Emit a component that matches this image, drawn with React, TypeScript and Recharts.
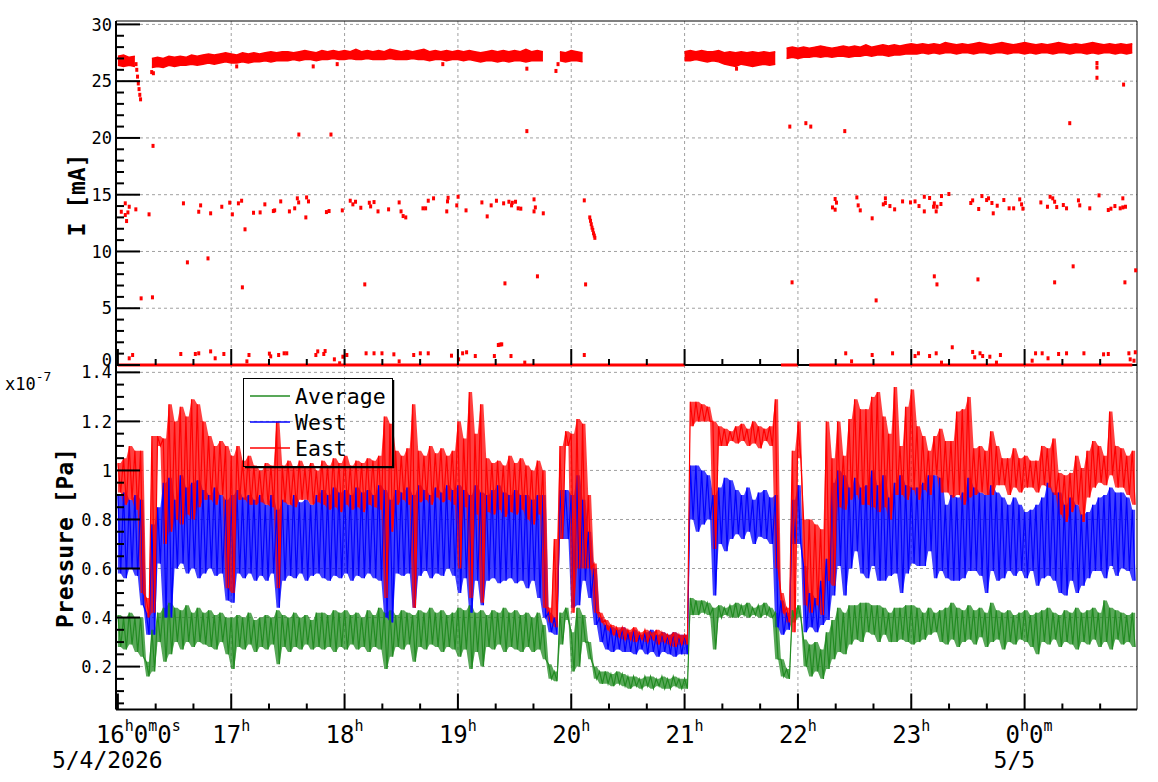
import React from 'react';
import { ComposedChart, Line, Area, Scatter, XAxis, YAxis, CartesianGrid, Legend } from 'recharts';

const W = 1158;
const H = 782;
const FONT = '"DejaVu Sans Mono", "Liberation Mono", monospace';
const BIN_MIN = 3; // minutes per sample bin, time measured in minutes after 16:00
const X_DOMAIN: [number, number] = [-1, 539.5];

// ---------- axis ticks / labels ----------
const timeTicks = [0, 20, 40, 60, 80, 100, 120, 140, 160, 180, 200, 220, 240, 260, 280, 300, 320, 340, 360, 380, 400, 420, 440, 460, 480, 500, 520];
const hourTicks = [60, 120, 180, 240, 300, 360, 420, 480];
const hourLabels = ['16', '17', '18', '19', '20', '21', '22', '23', '0'];
const dateLabels: { [k: number]: string } = { 0: '5/4/2026', 8: '5/5' };

const currentTicks = [0, 1, 2, 3, 4, 5, 6, 7, 8, 9, 10, 11, 12, 13, 14, 15, 16, 17, 18, 19, 20, 21, 22, 23, 24, 25, 26, 27, 28, 29, 30];
const currentMajor = [5, 10, 15, 20, 25, 30];
const pressureTicks = [0.05, 0.1, 0.15, 0.2, 0.25, 0.3, 0.35, 0.4, 0.45, 0.5, 0.55, 0.6, 0.65, 0.7, 0.75, 0.8, 0.85, 0.9, 0.95, 1.0, 1.05, 1.1, 1.15, 1.2, 1.25, 1.3, 1.35, 1.4];
const pressureMajor = [0.2, 0.4, 0.6, 0.8, 1.0, 1.2, 1.4];
const pressureLabels = ['0.2', '0.4', '0.6', '0.8', '1', '1.2', '1.4'];

// ---------- pressure (x1e-7 Pa), upper / lower envelope per 3-minute bin ----------
const eastHi = [
  1.03, 1.05, 1.10, 1.08, 1.08, 0.48, 1.14, 1.14, 1.13, 1.27,
  1.20, 1.26, 1.22, 1.29, 1.27, 1.20, 1.14, 1.10, 1.12, 1.10,
  1.06, 1.10, 1.04, 1.06, 1.02, 1.00, 1.03, 1.02, 1.20, 1.02,
  1.04, 1.01, 1.04, 1.01, 1.03, 1.00, 1.04, 1.02, 1.05, 1.03,
  1.06, 1.02, 1.04, 1.03, 1.05, 1.04, 1.06, 1.22, 1.19, 1.08,
  1.06, 1.09, 1.27, 1.08, 1.06, 1.10, 1.07, 1.09, 1.06, 1.08,
  1.20, 1.13, 1.32, 1.15, 1.27, 1.05, 1.03, 1.04, 1.02, 1.06,
  1.03, 1.05, 1.02, 1.00, 1.04, 1.00, 0.44, 0.72, 1.10, 1.16,
  1.15, 1.21, 1.19, 0.90, 0.62, 0.42, 0.39, 0.37, 0.36, 0.36,
  0.35, 0.36, 0.34, 0.35, 0.34, 0.35, 0.34, 0.33, 0.34, 0.33,
  0.33, 1.28, 1.28, 1.27, 1.26, 1.20, 1.18, 1.17, 1.16, 1.18,
  1.19, 1.17, 1.20, 1.18, 1.17, 1.18, 1.29, 0.50, 0.44, 1.08,
  1.20, 0.80, 0.80, 0.78, 0.76, 1.20, 1.05, 1.20, 1.06, 1.21,
  1.29, 1.25, 1.25, 1.30, 1.32, 1.22, 1.15, 1.34, 1.10, 1.26,
  1.33, 1.18, 1.14, 1.08, 1.14, 1.17, 1.12, 1.12, 1.24, 1.25,
  1.30, 1.09, 1.10, 1.08, 1.16, 1.10, 1.05, 1.05, 1.09, 1.05,
  1.06, 1.04, 1.04, 1.10, 1.09, 1.13, 0.99, 0.98, 0.99, 1.06,
  1.01, 1.08, 1.12, 1.10, 1.06, 1.24, 1.10, 1.09, 1.06, 1.08,
];
const eastLo = [
  0.91, 0.86, 0.88, 0.84, 0.50, 0.40, 0.42, 1.10, 0.70, 0.75,
  0.80, 0.78, 0.82, 0.80, 0.85, 0.88, 0.88, 0.86, 0.90, 0.52,
  0.50, 0.88, 0.88, 0.86, 0.86, 0.87, 0.86, 0.85, 0.52, 0.87,
  0.86, 0.85, 0.88, 0.88, 0.86, 0.87, 0.86, 0.84, 0.85, 0.83,
  0.86, 0.84, 0.85, 0.83, 0.86, 0.85, 0.84, 0.48, 0.75, 0.86,
  0.88, 0.86, 0.44, 0.87, 0.88, 0.86, 0.89, 0.87, 0.88, 0.86,
  0.60, 0.85, 0.48, 0.82, 0.46, 0.83, 0.82, 0.84, 0.81, 0.83,
  0.82, 0.84, 0.80, 0.78, 0.82, 0.44, 0.38, 0.36, 0.72, 1.10,
  0.42, 0.60, 0.60, 0.60, 0.42, 0.38, 0.35, 0.33, 0.32, 0.31,
  0.31, 0.30, 0.31, 0.30, 0.31, 0.29, 0.30, 0.29, 0.28, 0.29,
  0.29, 1.18, 1.20, 1.20, 1.20, 0.68, 1.10, 1.10, 1.12, 1.11,
  1.12, 1.10, 1.11, 1.09, 1.12, 1.10, 0.60, 0.42, 0.38, 0.34,
  1.05, 0.45, 0.42, 0.45, 0.41, 0.55, 0.53, 0.85, 0.84, 0.88,
  0.90, 0.86, 0.86, 0.85, 0.83, 0.85, 0.80, 0.90, 0.90, 0.88,
  0.92, 0.88, 0.92, 0.90, 0.98, 0.91, 0.91, 0.89, 0.90, 0.86,
  0.89, 0.90, 0.91, 0.90, 0.90, 0.94, 0.94, 0.90, 0.93, 0.91,
  0.93, 0.93, 0.91, 0.94, 0.93, 0.90, 0.82, 0.79, 0.83, 0.86,
  0.79, 0.89, 0.93, 0.95, 0.94, 0.98, 0.93, 0.93, 0.90, 0.86,
];
const westHi = [
  0.90, 0.91, 0.88, 0.90, 0.88, 0.42, 0.78, 0.85, 0.95, 0.97,
  0.88, 0.98, 0.93, 0.95, 0.96, 0.92, 0.90, 0.93, 0.90, 0.88,
  0.90, 0.92, 0.89, 0.90, 0.88, 0.90, 0.86, 0.90, 0.84, 0.88,
  0.86, 0.90, 0.87, 0.88, 0.86, 0.90, 0.92, 0.90, 0.93, 0.91,
  0.92, 0.90, 0.93, 0.91, 0.92, 0.90, 0.94, 0.92, 0.88, 0.92,
  0.91, 0.93, 0.90, 0.94, 0.92, 0.90, 0.93, 0.91, 0.94, 0.92,
  0.94, 0.92, 0.90, 0.94, 0.91, 0.90, 0.92, 0.94, 0.91, 0.90,
  0.92, 0.90, 0.90, 0.88, 0.90, 0.90, 0.42, 0.40, 0.92, 0.92,
  0.90, 0.98, 0.88, 0.75, 0.60, 0.40, 0.37, 0.36, 0.35, 0.36,
  0.34, 0.35, 0.33, 0.34, 0.35, 0.33, 0.34, 0.33, 0.34, 0.33,
  0.33, 1.02, 1.02, 1.00, 0.98, 0.90, 0.93, 0.97, 0.96, 0.92,
  0.90, 0.93, 0.88, 0.91, 0.92, 0.89, 0.90, 0.47, 0.42, 0.88,
  0.94, 0.61, 0.50, 0.48, 0.55, 0.64, 0.95, 1.00, 0.98, 0.93,
  0.97, 0.93, 0.94, 1.00, 0.94, 0.98, 0.89, 0.95, 0.98, 0.94,
  0.93, 0.93, 0.95, 0.98, 0.98, 0.97, 0.86, 0.90, 0.89, 0.91,
  0.97, 0.93, 0.91, 0.90, 0.94, 0.91, 0.89, 0.86, 0.89, 0.86,
  0.83, 0.84, 0.86, 0.89, 0.95, 0.91, 0.91, 0.86, 0.89, 0.86,
  0.82, 0.83, 0.86, 0.89, 0.90, 0.93, 0.91, 0.91, 0.89, 0.84,
];
const westLo = [
  0.58, 0.56, 0.60, 0.57, 0.45, 0.33, 0.33, 0.62, 0.40, 0.40,
  0.60, 0.62, 0.58, 0.60, 0.56, 0.58, 0.60, 0.57, 0.58, 0.47,
  0.46, 0.58, 0.56, 0.58, 0.55, 0.57, 0.55, 0.58, 0.44, 0.55,
  0.57, 0.56, 0.58, 0.55, 0.57, 0.58, 0.56, 0.55, 0.57, 0.56,
  0.58, 0.55, 0.57, 0.56, 0.58, 0.56, 0.55, 0.40, 0.38, 0.58,
  0.57, 0.58, 0.44, 0.57, 0.59, 0.56, 0.58, 0.57, 0.60, 0.57,
  0.50, 0.56, 0.42, 0.55, 0.45, 0.55, 0.56, 0.54, 0.55, 0.56,
  0.54, 0.55, 0.52, 0.55, 0.48, 0.40, 0.34, 0.33, 0.72, 0.72,
  0.44, 0.45, 0.55, 0.48, 0.37, 0.30, 0.27, 0.26, 0.27, 0.26,
  0.26, 0.25, 0.27, 0.25, 0.26, 0.24, 0.26, 0.25, 0.24, 0.25,
  0.25, 0.80, 0.75, 0.78, 0.80, 0.49, 0.70, 0.67, 0.72, 0.74,
  0.72, 0.75, 0.70, 0.73, 0.72, 0.70, 0.36, 0.33, 0.35, 0.70,
  0.70, 0.34, 0.36, 0.34, 0.37, 0.39, 0.49, 0.61, 0.49, 0.60,
  0.67, 0.58, 0.56, 0.61, 0.55, 0.55, 0.57, 0.58, 0.50, 0.58,
  0.62, 0.61, 0.61, 0.67, 0.56, 0.59, 0.56, 0.55, 0.55, 0.56,
  0.59, 0.59, 0.57, 0.50, 0.59, 0.55, 0.56, 0.59, 0.57, 0.59,
  0.56, 0.59, 0.53, 0.56, 0.57, 0.55, 0.50, 0.49, 0.55, 0.50,
  0.53, 0.56, 0.59, 0.59, 0.56, 0.61, 0.57, 0.60, 0.59, 0.55,
];
const avgHi = [
  0.41, 0.40, 0.42, 0.40, 0.40, 0.22, 0.35, 0.42, 0.44, 0.46,
  0.44, 0.43, 0.45, 0.42, 0.44, 0.42, 0.43, 0.41, 0.42, 0.40,
  0.40, 0.41, 0.40, 0.42, 0.39, 0.40, 0.41, 0.40, 0.43, 0.41,
  0.40, 0.42, 0.40, 0.41, 0.39, 0.42, 0.42, 0.41, 0.43, 0.42,
  0.43, 0.41, 0.42, 0.40, 0.43, 0.41, 0.44, 0.42, 0.43, 0.41,
  0.43, 0.42, 0.41, 0.43, 0.42, 0.44, 0.42, 0.43, 0.41, 0.42,
  0.44, 0.43, 0.45, 0.42, 0.43, 0.41, 0.43, 0.42, 0.44, 0.42,
  0.43, 0.41, 0.42, 0.40, 0.42, 0.37, 0.21, 0.18, 0.42, 0.44,
  0.34, 0.44, 0.41, 0.30, 0.20, 0.18, 0.18, 0.17, 0.18, 0.17,
  0.16, 0.16, 0.15, 0.16, 0.16, 0.15, 0.16, 0.15, 0.16, 0.15,
  0.15, 0.48, 0.47, 0.47, 0.46, 0.44, 0.45, 0.44, 0.45, 0.46,
  0.45, 0.46, 0.44, 0.45, 0.46, 0.44, 0.42, 0.23, 0.19, 0.43,
  0.45, 0.31, 0.29, 0.30, 0.27, 0.34, 0.39, 0.44, 0.42, 0.45,
  0.45, 0.46, 0.46, 0.45, 0.45, 0.44, 0.42, 0.44, 0.44, 0.45,
  0.45, 0.44, 0.42, 0.44, 0.42, 0.43, 0.44, 0.46, 0.44, 0.43,
  0.45, 0.43, 0.44, 0.42, 0.46, 0.43, 0.42, 0.43, 0.41, 0.42,
  0.43, 0.41, 0.42, 0.43, 0.44, 0.42, 0.41, 0.43, 0.42, 0.44,
  0.42, 0.43, 0.44, 0.42, 0.47, 0.44, 0.43, 0.42, 0.41, 0.42,
];
const avgLo = [
  0.28, 0.27, 0.29, 0.26, 0.24, 0.16, 0.18, 0.30, 0.22, 0.25,
  0.30, 0.27, 0.30, 0.28, 0.30, 0.29, 0.28, 0.27, 0.30, 0.25,
  0.19, 0.28, 0.27, 0.29, 0.26, 0.28, 0.27, 0.29, 0.21, 0.28,
  0.26, 0.28, 0.27, 0.29, 0.27, 0.28, 0.27, 0.28, 0.26, 0.28,
  0.27, 0.29, 0.27, 0.28, 0.26, 0.28, 0.27, 0.19, 0.24, 0.28,
  0.27, 0.29, 0.22, 0.28, 0.27, 0.29, 0.28, 0.26, 0.28, 0.27,
  0.24, 0.27, 0.19, 0.26, 0.20, 0.28, 0.27, 0.29, 0.26, 0.28,
  0.27, 0.26, 0.28, 0.26, 0.27, 0.23, 0.15, 0.14, 0.29, 0.39,
  0.18, 0.20, 0.30, 0.23, 0.15, 0.13, 0.13, 0.12, 0.13, 0.12,
  0.11, 0.12, 0.11, 0.12, 0.11, 0.12, 0.11, 0.11, 0.12, 0.11,
  0.11, 0.41, 0.41, 0.42, 0.41, 0.27, 0.40, 0.41, 0.40, 0.40,
  0.41, 0.40, 0.41, 0.40, 0.41, 0.40, 0.23, 0.16, 0.15, 0.38,
  0.40, 0.20, 0.16, 0.18, 0.15, 0.19, 0.23, 0.26, 0.25, 0.29,
  0.31, 0.30, 0.34, 0.33, 0.30, 0.33, 0.30, 0.30, 0.31, 0.30,
  0.29, 0.30, 0.31, 0.33, 0.34, 0.30, 0.29, 0.31, 0.28, 0.30,
  0.31, 0.29, 0.32, 0.28, 0.30, 0.31, 0.27, 0.30, 0.29, 0.31,
  0.30, 0.28, 0.25, 0.30, 0.29, 0.31, 0.28, 0.30, 0.29, 0.27,
  0.30, 0.29, 0.31, 0.28, 0.30, 0.27, 0.31, 0.29, 0.30, 0.28,
];

// ---------- beam current (mA) ----------
const curHi = [
  27.2, 27.3, 27.1, 27.2, null, null, 27.0, 27.1, 27.0, 27.2,
  27.1, 27.2, 27.1, 27.3, 27.2, 27.3, 27.4, 27.3, 27.4, 27.5,
  27.4, 27.3, 27.5, 27.4, 27.5, 27.4, 27.5, 27.6, 27.5, 27.6,
  27.6, 27.5, 27.6, 27.7, 27.6, 27.5, 27.7, 27.6, 27.7, 27.6,
  27.7, 27.6, 27.8, 27.6, 27.7, 27.6, 27.7, 27.6, 27.8, 27.7,
  27.6, 27.7, 27.6, 27.7, 27.8, 27.6, 27.7, 27.6, 27.7, 27.6,
  27.7, 27.6, 27.7, 27.6, 27.5, 27.6, 27.7, 27.6, 27.7, 27.6,
  27.7, 27.6, 27.8, 27.6, 27.7, 27.6, null, null, 27.6, 27.5,
  27.7, 27.6, 27.5, null, null, null, null, null, null, null,
  null, null, null, null, null, null, null, null, null, null,
  27.6, 27.7, 27.6, 27.7, 27.6, 27.6, 27.7, 27.5, 27.6, 27.5,
  27.6, 27.5, 27.6, 27.5, 27.6, 27.5, 27.6, null, 27.9, 28.0,
  27.9, 28.0, 27.9, 28.0, 28.1, 28.0, 27.9, 28.0, 28.1, 28.0,
  28.1, 28.0, 28.2, 28.0, 28.1, 28.2, 28.1, 28.2, 28.1, 28.2,
  28.3, 28.2, 28.3, 28.2, 28.3, 28.2, 28.4, 28.3, 28.2, 28.3,
  28.2, 28.3, 28.4, 28.3, 28.2, 28.3, 28.4, 28.3, 28.2, 28.3,
  28.4, 28.3, 28.2, 28.3, 28.2, 28.3, 28.4, 28.3, 28.2, 28.3,
  28.2, 28.3, 28.4, 28.3, 28.2, 28.3, 28.2, 28.3, 28.2, 28.3,
];
const curLo = [
  26.4, 26.3, 26.4, 26.3, null, null, 26.2, 26.3, 26.2, 26.4,
  26.3, 26.4, 26.4, 26.5, 26.4, 26.5, 26.6, 26.5, 26.6, 26.7,
  26.6, 26.6, 26.7, 26.6, 26.7, 26.7, 26.8, 26.7, 26.8, 26.8,
  26.8, 26.9, 26.8, 26.9, 26.9, 26.8, 26.9, 26.9, 27.0, 26.9,
  26.9, 27.0, 26.9, 26.9, 27.0, 26.9, 26.9, 26.9, 27.0, 26.9,
  26.9, 26.9, 27.0, 26.9, 26.9, 26.8, 26.9, 26.9, 26.8, 26.9,
  26.9, 26.8, 26.9, 26.8, 26.7, 26.8, 26.8, 26.7, 26.8, 26.7,
  26.8, 26.8, 26.7, 26.8, 26.8, 26.8, null, null, 26.8, 26.7,
  26.8, 26.8, 26.7, null, null, null, null, null, null, null,
  null, null, null, null, null, null, null, null, null, null,
  26.8, 26.8, 26.9, 26.8, 26.7, 26.8, 26.7, 26.5, 26.4, 26.3,
  26.5, 26.4, 26.3, 26.4, 26.5, 26.4, 26.5, null, 27.0, 27.1,
  27.0, 27.1, 27.1, 27.2, 27.1, 27.2, 27.1, 27.2, 27.2, 27.1,
  27.2, 27.2, 27.3, 27.2, 27.3, 27.3, 27.2, 27.3, 27.3, 27.4,
  27.4, 27.4, 27.5, 27.4, 27.5, 27.4, 27.5, 27.5, 27.4, 27.5,
  27.5, 27.4, 27.5, 27.5, 27.4, 27.5, 27.5, 27.4, 27.5, 27.5,
  27.4, 27.5, 27.4, 27.5, 27.5, 27.4, 27.5, 27.5, 27.4, 27.5,
  27.5, 27.4, 27.5, 27.4, 27.5, 27.5, 27.4, 27.5, 27.4, 27.5,
];
const idleCurrent = [
  0, 0, 0, 0, 0, 0, 0, 0, 0, 0,
  0, 0, 0, 0, 0, 0, 0, 0, 0, 0,
  0, 0, 0, 0, 0, 0, 0, 0, 0, 0,
  0, 0, 0, 0, 0, 0, 0, 0, 0, 0,
  0, 0, 0, 0, 0, 0, 0, 0, 0, 0,
  0, 0, 0, 0, 0, 0, 0, 0, 0, 0,
  0, 0, 0, 0, 0, 0, 0, 0, 0, 0,
  0, 0, 0, 0, 0, 0, 0, 0, 0, 0,
  0, 0, 0, 0, 0, 0, 0, 0, 0, 0,
  0, 0, 0, 0, 0, 0, 0, 0, 0, 0,
  0, null, null, null, null, null, null, null, null, null,
  null, null, null, null, null, null, null, 0, 0, 0,
  0, null, 0, 0, 0, 0, 0, 0, 0, 0,
  0, 0, 0, 0, 0, 0, 0, 0, 0, 0,
  0, 0, 0, 0, 0, 0, 0, 0, 0, 0,
  0, 0, 0, 0, 0, 0, 0, 0, 0, 0,
  0, 0, 0, 0, 0, 0, 0, 0, 0, 0,
  0, 0, 0, 0, 0, 0, 0, 0, 0, 0,
];

// isolated current readings [minute, mA]
const dropPts = [
  [9.6, 26.5], [10.0, 26.0], [10.4, 25.4], [10.8, 24.8], [11.2, 24.3], [11.6, 23.8], [12.0, 23.4],
  [249.8, 13.0], [250.2, 12.7], [250.6, 12.4], [251.0, 12.1], [251.4, 11.9], [251.8, 11.6], [252.2, 11.4], [252.5, 11.2],
];
const highPts = [
  [18.6, 19.3], [95.8, 20.3], [112.8, 20.3], [216.5, 20.6], [355.7, 21.0], [364.2, 21.3], [366.8, 21.0],
  [384.8, 20.6], [503.9, 21.3], [532.4, 24.7], [518.3, 25.3], [518.3, 26.2], [518.3, 26.6],
  [17.9, 25.8], [18.8, 25.7], [62.9, 26.3], [103.4, 26.3], [116.1, 26.5], [172.0, 26.5],
  [216.5, 26.1], [231.9, 25.9], [233.0, 26.5], [327.5, 26.1],
];
const midPts = [
  [1.8, 13.5], [3.9, 14.24], [3.9, 13.21], [5.3, 13.44], [6.0, 13.94], [4.6, 12.68], [9.5, 13.71], [16.5, 13.27],
  [34.7, 14.24], [43.8, 14.06], [42.8, 13.5], [49.1, 13.36], [55.0, 13.94], [59.2, 14.3], [60.6, 13.27], [63.8, 14.24],
  [65.5, 14.47], [67.3, 11.95], [71.8, 13.41], [75.3, 13.44], [77.8, 14.15], [82.3, 13.56], [83.0, 13.62], [86.2, 14.41],
  [90.8, 13.53], [93.6, 13.8], [95.0, 14.68], [95.7, 14.32], [99.9, 14.76], [100.9, 14.41], [99.5, 13.0], [110.4, 13.47],
  [111.8, 13.56], [118.8, 13.62], [123.0, 14.47], [124.4, 14.15], [125.8, 14.38], [128.6, 13.85], [133.1, 14.29],
  [133.8, 13.97], [135.6, 14.35], [137.7, 13.53], [143.3, 13.71], [148.9, 14.32], [149.9, 13.53], [151.0, 13.12],
  [152.4, 13.0], [161.5, 13.8], [162.9, 13.8], [164.3, 14.47], [167.1, 14.68], [174.5, 14.41], [174.1, 13.53],
  [174.8, 14.73], [179.4, 14.06], [180.1, 14.82], [184.3, 13.62], [192.7, 14.32], [195.5, 13.09], [197.6, 14.06],
  [200.4, 14.47], [204.2, 14.24], [207.0, 14.38], [208.4, 14.06], [208.8, 14.29], [210.5, 14.38], [211.9, 13.8],
  [213.3, 13.77], [220.3, 14.59], [221.0, 13.88], [220.3, 13.53], [225.2, 13.36], [246.9, 14.5],
  [378.3, 13.88], [379.7, 14.62], [380.4, 14.3], [379.7, 13.68], [391.2, 14.76], [391.9, 14.06], [393.0, 13.62],
  [399.3, 12.92], [406.3, 14.68], [406.3, 14.27], [405.2, 14.15], [408.7, 14.0], [411.2, 13.71], [415.4, 14.41],
  [419.6, 14.32], [422.0, 14.41], [424.1, 14.0], [426.9, 14.82], [426.9, 13.53], [429.7, 14.71], [432.2, 14.24],
  [431.8, 13.94], [433.2, 13.53], [433.6, 13.94], [435.7, 14.18], [436.0, 14.88], [439.9, 15.06], [451.5, 14.27],
  [452.5, 14.5], [455.7, 13.74], [457.4, 14.88], [459.9, 14.53], [460.9, 14.68], [462.7, 14.27], [463.4, 13.36],
  [465.5, 14.03], [469.0, 14.53], [471.8, 13.8], [474.2, 13.8], [477.4, 14.59], [478.4, 14.15], [479.1, 13.77],
  [488.6, 14.32], [493.5, 14.82], [494.9, 14.68], [495.9, 14.38], [492.1, 13.94], [497.0, 13.91], [500.5, 14.09],
  [502.2, 13.8], [508.5, 14.5], [509.2, 14.06], [514.5, 13.8], [519.4, 14.94], [524.3, 13.65], [525.7, 13.77],
  [527.8, 14.0], [530.6, 13.8], [532.0, 13.88], [532.0, 14.68], [533.4, 13.94],
];
const lowPts = [
  [36.8, 9.04], [47.7, 9.39], [65.9, 6.84], [130.7, 7.1], [204.9, 7.19], [222.1, 7.81], [247.6, 7.1],
  [356.9, 7.28], [432.2, 7.81], [433.6, 7.1], [455.3, 7.54], [495.9, 7.28], [505.7, 8.69], [533.1, 7.28],
  [538.8, 8.34], [401.4, 5.69], [12.3, 5.87], [18.3, 5.96],
];
const floorPts = [
  [6.0, 0.59], [7.8, 0.88], [33.3, 0.97], [41.0, 0.97], [42.8, 1.03], [49.1, 1.2], [51.5, 0.59], [56.1, 0.97],
  [68.3, 0.32], [69.4, 0.88], [80.2, 1.0], [80.9, 0.76], [85.1, 0.88], [88.0, 1.03], [89.4, 1.03], [104.8, 0.88],
  [105.8, 1.2], [109.0, 0.97], [109.7, 1.23], [114.6, 0.5], [117.4, 0.15], [119.1, 0.73], [121.2, 0.88],
  [131.4, 1.03], [135.6, 1.03], [139.8, 1.03], [146.1, 0.94], [148.9, 0.32], [156.6, 0.88], [160.1, 1.03],
  [164.3, 1.03], [176.6, 0.82], [180.4, 0.5], [182.5, 1.03], [184.6, 1.12], [189.2, 0.79], [199.3, 0.79],
  [201.4, 1.76], [202.3, 1.8], [203.2, 1.82], [208.1, 0.79], [215.4, 0.21], [246.9, 0.88], [385.3, 1.03],
  [388.4, 0.32], [399.3, 0.88], [410.1, 1.03], [422.0, 0.79], [423.8, 1.03], [433.2, 1.03], [429.7, 0.79],
  [436.0, 0.21], [441.7, 1.56], [452.5, 1.15], [456.4, 1.03], [457.8, 0.79], [453.6, 0.68], [461.6, 0.73],
  [467.2, 0.88], [465.1, 0.21], [484.0, 0.38], [485.8, 1.03], [489.3, 1.03], [492.4, 0.59], [498.0, 0.97],
  [502.2, 1.03], [511.4, 1.03], [521.8, 0.94], [524.3, 0.97], [535.2, 1.03], [535.9, 0.5], [538.6, 1.12],
  [537.9, 0.38],
];

// ---------- build library data ----------
const currentRows = curHi.map((hi, i) => ({
  t: i * BIN_MIN,
  band: hi === null || curLo[i] === null ? null : [curLo[i], hi],
  zero: idleCurrent[i],
}));
const currentPts = [...dropPts, ...highPts, ...midPts, ...lowPts, ...floorPts].map(([t, v]) => ({ t, v }));

const pressureRows: any[] = [];
eastHi.forEach((_, i) => {
  const bands = {
    avgBand: [avgLo[i], avgHi[i]],
    westBand: [westLo[i], westHi[i]],
    eastBand: [eastLo[i], eastHi[i]],
  };
  pressureRows.push({ t: i * BIN_MIN, avg: avgHi[i], west: westHi[i], east: eastHi[i], ...bands });
  pressureRows.push({ t: i * BIN_MIN + BIN_MIN / 2, avg: avgLo[i], west: westLo[i], east: eastLo[i], ...bands });
});

const legendOrder = ['Average', 'West', 'East'];

// ---------- custom renderers ----------
function HourLabel({ x, v }: { x: number; v: number }) {
  const idx = Math.round(v / 60);
  const hour = hourLabels[idx];
  let parts: [string, boolean][];
  if (idx === 0) parts = [[hour, false], ['h', true], ['0', false], ['m', true], ['0', false], ['s', true]];
  else if (hour === '0') parts = [[hour, false], ['h', true], ['0', false], ['m', true]];
  else parts = [[hour, false], ['h', true]];
  const startX = idx === 0 ? x - 22 : x - 19;
  let prevSup = false;
  const spans = parts.map(([s, sup], k) => {
    const dy = sup === prevSup ? 0 : sup ? -12 : 12;
    prevSup = sup;
    return (
      <tspan key={k} dy={dy} fontSize={sup ? 15 : 24}>
        {s}
      </tspan>
    );
  });
  const date = dateLabels[idx];
  return (
    <g>
      <text x={startX} y={743} fontFamily={FONT} fontSize={24} fill="#000">
        {spans}
      </text>
      {date && (
        <text x={idx === 0 ? x - 66 : x - 31} y={768} fontFamily={FONT} fontSize={23} fill="#000">
          {date}
        </text>
      )}
    </g>
  );
}

const makeTimeTick = (withLabels: boolean) => (props: any) => {
  const { x, y, payload } = props;
  const v = payload.value as number;
  const major = v % 60 === 0;
  return (
    <g>
      <line x1={x} x2={x} y1={y} y2={y - (major ? 16 : 6)} stroke="#000" strokeWidth={2} />
      {withLabels && major && <HourLabel x={x} v={v} />}
    </g>
  );
};

const CurrentTick = (props: any) => {
  const { x, y, payload } = props;
  const v = payload.value as number;
  const major = v % 5 === 0;
  return (
    <g>
      <line x1={x} x2={x + (major ? 24 : 8)} y1={y} y2={y} stroke="#000" strokeWidth={2} />
      {major && (
        <text x={x - 4} y={v === 0 ? y - 5 : y} dy="0.36em" textAnchor="end" fontFamily={FONT} fontSize={17} fill="#000">
          {v}
        </text>
      )}
    </g>
  );
};

const PressureTick = (props: any) => {
  const { x, y, payload } = props;
  const v = payload.value as number;
  const mi = pressureMajor.findIndex((m) => Math.abs(m - v) < 1e-6);
  const major = mi >= 0;
  return (
    <g>
      <line x1={x} x2={x + (major ? 24 : 8)} y1={y} y2={y} stroke="#000" strokeWidth={2} />
      {major && (
        <text x={x - 4} y={y} dy="0.36em" textAnchor="end" fontFamily={FONT} fontSize={17} fill="#000">
          {pressureLabels[mi]}
        </text>
      )}
    </g>
  );
};

const CurrentTitle = () => (
  <text
    x={0}
    y={0}
    transform="translate(85,195) rotate(-90)"
    textAnchor="middle"
    fontFamily={FONT}
    fontWeight="bold"
    fontSize={23}
    fill="#000"
  >
    I [mA]
  </text>
);

const PressureTitle = () => (
  <g>
    <text
      x={0}
      y={0}
      transform="translate(73,538) rotate(-90)"
      textAnchor="middle"
      fontFamily={FONT}
      fontWeight="bold"
      fontSize={23}
      fill="#000"
    >
      Pressure [Pa]
    </text>
    <text x={5} y={390} fontFamily={FONT} fontSize={17} fill="#000">
      x10
      <tspan dy={-9} fontSize={13}>
        -7
      </tspan>
    </text>
  </g>
);

const LegendBox = (props: any) => {
  const payload = (props.payload || [])
    .filter((p: any) => legendOrder.indexOf(p.value) >= 0)
    .sort((a: any, b: any) => legendOrder.indexOf(a.value) - legendOrder.indexOf(b.value));
  return (
    <svg width={154} height={92} style={{ display: 'block', overflow: 'visible' }}>
      <rect x={0.5} y={0.5} width={149} height={88} fill="none" stroke="#000" strokeWidth={1} />
      <line x1={150.5} y1={2} x2={150.5} y2={90} stroke="#000" strokeWidth={1.5} />
      <line x1={2} y1={89.5} x2={151} y2={89.5} stroke="#000" strokeWidth={1.5} />
      {payload.map((p: any, k: number) => (
        <g key={p.value}>
          <line x1={7} x2={47} y1={18 + 26 * k} y2={18 + 26 * k} stroke={p.color} strokeWidth={1.5} />
          <text x={52} y={25.5 + 26 * k} fontFamily={FONT} fontSize={21.5} fill="#000">
            {p.value}
          </text>
        </g>
      ))}
    </svg>
  );
};

const SquareDot = (p: any) => <rect x={p.cx - 1.5} y={p.cy - 2} width={3} height={4} fill="#ff0000" />;

const GRID_STROKE = '#a0a0a0';
const GRID_DASH = '3 3';
const BAND_OPACITY = 0.75;

export default function App() {
  return (
    <div style={{ position: 'absolute', left: 0, top: 0, width: W, height: H, background: '#fff' }}>
      {/* lower pad: pressure */}
      <div style={{ position: 'absolute', left: 0, top: 0 }}>
        <ComposedChart width={W} height={H} data={pressureRows} margin={{ top: 364, right: 20, bottom: 71.5, left: 115 }}>
          <CartesianGrid horizontalValues={pressureMajor} verticalValues={hourTicks} stroke={GRID_STROKE} strokeDasharray={GRID_DASH} />
          <XAxis
            dataKey="t"
            type="number"
            domain={X_DOMAIN}
            allowDataOverflow
            ticks={timeTicks}
            interval={0}
            height={1}
            tickSize={0}
            tickMargin={0}
            tickLine={false}
            tick={makeTimeTick(true)}
            axisLine={{ stroke: '#000', strokeWidth: 2 }}
          />
          <XAxis xAxisId="top" orientation="top" dataKey="t" type="number" domain={X_DOMAIN} allowDataOverflow height={1} ticks={hourTicks} tick={false} tickLine={false} axisLine={{ stroke: '#000', strokeWidth: 2 }} />
          <YAxis
            type="number"
            domain={[0.025, 1.43]}
            allowDataOverflow
            ticks={pressureTicks}
            interval={0}
            width={1}
            tickSize={0}
            tickMargin={0}
            tickLine={false}
            tick={PressureTick}
            axisLine={{ stroke: '#000', strokeWidth: 2 }}
            label={<PressureTitle />}
          />
          <YAxis yAxisId="right" orientation="right" type="number" domain={[0.025, 1.43]} width={1} ticks={pressureMajor} tick={false} tickLine={false} axisLine={{ stroke: '#000', strokeWidth: 1 }} />
          <Legend
            layout="horizontal"
            verticalAlign="middle"
            align="center"
            content={<LegendBox />}
            wrapperStyle={{ left: 243, top: 378, width: 154, height: 92 }}
          />
          <Area dataKey="avgBand" type="linear" stroke="none" fill="#228b22" fillOpacity={BAND_OPACITY} isAnimationActive={false} legendType="none" />
          <Line name="Average" dataKey="avg" type="linear" stroke="#228b22" strokeWidth={1.2} dot={false} isAnimationActive={false} />
          <Area dataKey="westBand" type="linear" stroke="none" fill="#0000ff" fillOpacity={BAND_OPACITY} isAnimationActive={false} legendType="none" />
          <Line name="West" dataKey="west" type="linear" stroke="#0000ff" strokeWidth={1.2} dot={false} isAnimationActive={false} />
          <Area dataKey="eastBand" type="linear" stroke="none" fill="#ff0000" fillOpacity={BAND_OPACITY} isAnimationActive={false} legendType="none" />
          <Line name="East" dataKey="east" type="linear" stroke="#ff0000" strokeWidth={1.2} dot={false} isAnimationActive={false} />
        </ComposedChart>
      </div>

      {/* upper pad: beam current (drawn last so its readings at 0 mA sit over the pad border) */}
      <div style={{ position: 'absolute', left: 0, top: 0 }}>
        <ComposedChart width={W} height={H} data={currentRows} margin={{ top: 20, right: 20, bottom: 416, left: 115 }}>
          <CartesianGrid horizontalValues={currentMajor} verticalValues={hourTicks} stroke={GRID_STROKE} strokeDasharray={GRID_DASH} />
          <XAxis
            dataKey="t"
            type="number"
            domain={X_DOMAIN}
            ticks={timeTicks}
            interval={0}
            height={1}
            tickSize={0}
            tickMargin={0}
            tickLine={false}
            tick={makeTimeTick(false)}
            axisLine={false}
          />
          <XAxis xAxisId="top" orientation="top" dataKey="t" type="number" domain={X_DOMAIN} height={1} ticks={hourTicks} tick={false} tickLine={false} axisLine={{ stroke: '#000', strokeWidth: 1 }} />
          <YAxis
            type="number"
            domain={[0, 30.3]}
            ticks={currentTicks}
            interval={0}
            width={1}
            tickSize={0}
            tickMargin={0}
            tickLine={false}
            tick={CurrentTick}
            axisLine={{ stroke: '#000', strokeWidth: 2 }}
            label={<CurrentTitle />}
          />
          <YAxis yAxisId="right" orientation="right" type="number" domain={[0, 30.3]} width={1} ticks={currentMajor} tick={false} tickLine={false} axisLine={{ stroke: '#000', strokeWidth: 1 }} />
          <Area dataKey="band" type="linear" stroke="#ff0000" strokeWidth={1.5} fill="#ff0000" fillOpacity={1} isAnimationActive={false} connectNulls={false} legendType="none" />
          <Line dataKey="zero" type="linear" stroke="#ff0000" strokeWidth={3} dot={false} isAnimationActive={false} connectNulls={false} legendType="none" />
          <Scatter data={currentPts} dataKey="v" shape={SquareDot} isAnimationActive={false} legendType="none" />
        </ComposedChart>
      </div>
    </div>
  );
}
